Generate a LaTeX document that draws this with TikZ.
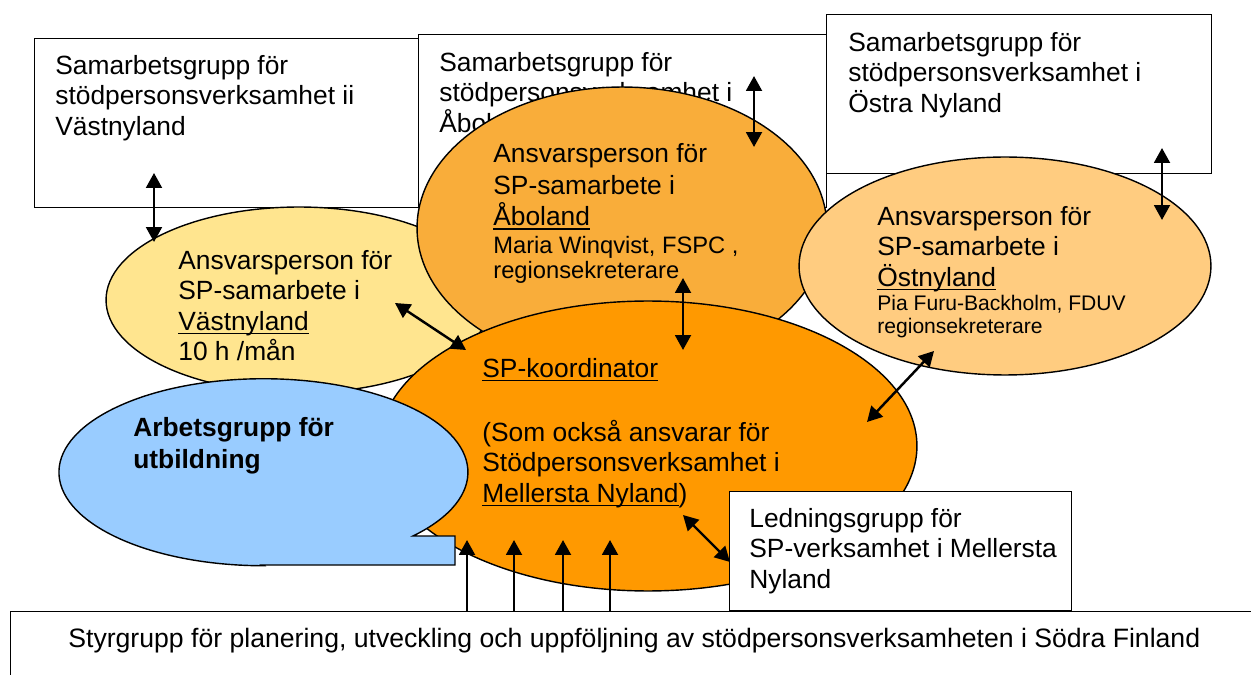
\documentclass[tikz,border=0pt]{standalone}
\usepackage{fontspec}
\setmainfont{Liberation Sans}
\usepackage{tikz}
\usetikzlibrary{shapes.geometric, arrows.meta, positioning}
\definecolor{vastgul}{HTML}{FFE58F}
\definecolor{aboorange}{HTML}{F9AD3A}
\definecolor{ostorange}{HTML}{FFCC80}
\definecolor{koordorange}{HTML}{FF9900}
\definecolor{utbblue}{HTML}{99CCFF}
\newsavebox\ulbox
\newcommand{\ulin}[1]{\sbox\ulbox{#1}\rlap{\rule[-2.3pt]{\wd\ulbox}{0.8pt}}\usebox\ulbox}
\tikzstyle{link}   = [line width=1.4pt,<->,>={Triangle[length=8.5pt,width=9pt]}]
\tikzstyle{uplink} = [line width=1.4pt,->,>={Triangle[length=8.5pt,width=9pt]}]
\tikzset{
  box/.style={draw, line width=0.8pt, fill=white, inner sep=0pt, anchor=north west},
  region/.style={ellipse, draw, line width=0.8pt, inner sep=0pt},
  txt/.style={anchor=north west, inner sep=0pt, align=left, font=\fontsize{15}{17.3}\selectfont},
  smalltxt/.style={txt, font=\fontsize{13.5}{14.3}\selectfont},
  tinytxt/.style={txt, font=\fontsize{12}{13.2}\selectfont}
}

\begin{document}
\begin{tikzpicture}[x=0.02cm, y=0.02cm]
  \useasboundingbox (0,0) rectangle (1251,-675);
  \clip (0,0) rectangle (1251,-675);
  % Samarbetsgrupper
  \node[box, minimum width=7.68cm, minimum height=3.38cm] (vastbox) at (34,-38) {};
  \node[txt] (vastboxtext) at (55,-55) {Samarbetsgrupp för\\stödpersonsverksamhet ii\\Västnyland};
  \node[box, minimum width=8.16cm, minimum height=3.46cm] (abobox) at (418,-34) {};
  \node[txt] (aboboxtext) at (439,-52) {Samarbetsgrupp för\\stödpersonsverksamhet i\\Åboland};
  \node[box, minimum width=7.70cm, minimum height=3.18cm] (ostbox) at (826,-14) {};
  \node[txt] (ostboxtext) at (848,-32) {Samarbetsgrupp för\\stödpersonsverksamhet i\\Östra Nyland};
  % Ansvarspersoner och koordinator
  \node[region, fill=vastgul, minimum width=7.72cm, minimum height=3.72cm] (vast) at (299,-300) {};
  \node[region, fill=aboorange, minimum width=8.2cm, minimum height=5.64cm] (abo) at (622,-228) {};
  \node[region, fill=ostorange, minimum width=8.24cm, minimum height=4.36cm] (ost) at (1005,-266) {};
  \node[region, fill=koordorange, minimum width=10.76cm, minimum height=5.8cm] (koord) at (648,-446) {};
  % Arbetsgrupp (pratbubbla)
  \draw[line width=0.8pt, fill=utbblue] (262,-565) -- (455,-565) -- (455,-536) -- (413,-536)
    arc[start angle=-43, end angle=270, x radius=204.5, y radius=93.5] -- cycle;
  \node[txt, font=\fontsize{15}{18}\selectfont\bfseries] (utb) at (133,-417) {Arbetsgrupp för\\utbildning};
  % Ledning och styrgrupp
  \node[box, minimum width=6.84cm, minimum height=2.38cm] (led) at (729,-491) {};
  \node[txt] (ledtext) at (749,-508) {Ledningsgrupp för\\SP-verksamhet i Mellersta\\Nyland};
  \node[box, minimum width=26cm, minimum height=2cm] (styr) at (10,-611) {};
  \node[txt, font=\fontsize{15.15}{17.3}\selectfont] (styrtext) at (68,-628) {Styrgrupp för planering, utveckling och uppföljning av stödpersonsverksamheten i Södra Finland};
  % Texter i ellipserna
  \node[txt] (vasttext) at (178,-250) {Ansvarsperson för\\SP-samarbete i\\\ulin{Västnyland}\\10 h /mån};
  \node[txt, font=\fontsize{15}{18}\selectfont] (abotext) at (493,-143) {Ansvarsperson för\\SP-samarbete i\\\ulin{Åboland}};
  \node[smalltxt] (abonamn) at (493,-236) {Maria Winqvist, FSPC ,\\regionsekreterare};
  \node[txt] (osttext) at (877,-206) {Ansvarsperson för\\SP-samarbete i\\\ulin{Östnyland}};
  \node[tinytxt] (ostnamn) at (877,-295) {Pia Furu-Backholm, FDUV\\regionsekreterare};
  \node[txt] (koordtext) at (482,-358) {\ulin{SP-koordinator}\\[19pt](Som också ansvarar för\\Stödpersonsverksamhet i\\\ulin{Mellersta Nyland})};
  % Pilar
  \coordinate (vastUp) at (154,-173);   \coordinate (vastDown) at (154,-242);
  \coordinate (vastA) at (395,-303);    \coordinate (koordA) at (466,-350);
  \coordinate (aboUp) at (754,-76);     \coordinate (aboDown) at (754,-147);
  \coordinate (aboB) at (683,-278);     \coordinate (koordB) at (683,-350);
  \coordinate (ostUp) at (1162,-148);   \coordinate (ostDown) at (1162,-220);
  \coordinate (ostB) at (934,-351);     \coordinate (koordC) at (867,-422);
  \coordinate (koordD) at (683,-515);   \coordinate (ledA) at (730,-562);
  \draw[link] (vastUp) -- (vastDown);
  \draw[link] (vastA) -- (koordA);
  \draw[link] (aboUp) -- (aboDown);
  \draw[link] (aboB) -- (koordB);
  \draw[link] (ostUp) -- (ostDown);
  \draw[link] (ostB) -- (koordC);
  \draw[link] (koordD) -- (ledA);
  \foreach \x [count=\i] in {467,514,563,610}{
    \coordinate (up\i) at (\x,-540);
    \draw[uplink] (styr.north -| up\i) -- (up\i);
  }
\end{tikzpicture}
\end{document}
